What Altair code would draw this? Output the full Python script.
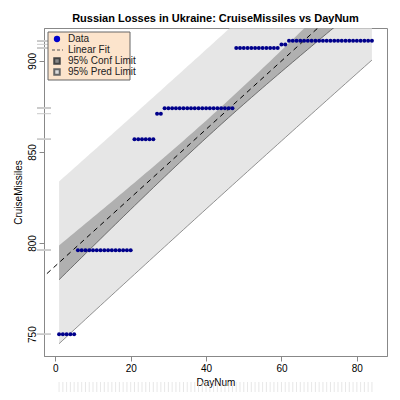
import numpy as np
import pandas as pd
import altair as alt

# CruiseMissiles by day
days = list(range(1, 85))
runs = [(5, 750), (15, 796), (6, 857), (2, 871), (19, 874), (12, 907), (2, 909), (23, 911)]
missiles = [v for n, v in runs for _ in range(n)]
legend_labels = ["Data", "Linear Fit", "95% Conf Limit", "95% Pred Limit"]

df = pd.DataFrame({"DayNum": days, "CruiseMissiles": missiles})

# least squares fit with 95% confidence / prediction limits
x = np.array(days, float)
y = np.array(missiles, float)
n = len(x)
b, a = np.polyfit(x, y, 1)
res = y - (a + b * x)
s = np.sqrt((res ** 2).sum() / (n - 2))
sxx = ((x - x.mean()) ** 2).sum()
t = 1.989
fit = a + b * x
se_c = s * np.sqrt(1 / n + (x - x.mean()) ** 2 / sxx)
se_p = s * np.sqrt(1 + 1 / n + (x - x.mean()) ** 2 / sxx)
band = pd.DataFrame({"DayNum": x, "fit": fit,
                     "clo": fit - t * se_c, "chi": fit + t * se_c,
                     "plo": fit - t * se_p, "phi": fit + t * se_p})
line = pd.DataFrame({"DayNum": [-4.0, 92.0]})
line["fit"] = a + b * line["DayNum"]

xs = alt.Scale(domain=[-3, 88], nice=False, zero=False)
ys = alt.Scale(domain=[738, 918], nice=False, zero=False)
X = alt.X("DayNum:Q", scale=xs, title="DayNum",
          axis=alt.Axis(values=[0, 20, 40, 60, 80], grid=False))
Y = alt.Y("plo:Q", scale=ys, title="CruiseMissiles",
          axis=alt.Axis(values=[750, 800, 850, 900], grid=False, labelAngle=-90))

pred = alt.Chart(band).mark_area(color="#dcdcdc", clip=True,
                                 line={"color": "#777", "strokeWidth": 0.8}).encode(
    x=X, y=Y, y2="phi:Q")
conf = alt.Chart(band).mark_area(color="#999999", clip=True,
                                 line={"color": "#555", "strokeWidth": 0.8}).encode(
    x="DayNum:Q", y="clo:Q", y2="chi:Q")
fitline = alt.Chart(line).mark_line(color="black", strokeDash=[5, 4], strokeWidth=1, clip=True).encode(
    x="DayNum:Q", y="fit:Q")
xrug = alt.Chart(df).mark_tick(color="#dddddd", thickness=1, size=10, orient="vertical").encode(
    x="DayNum:Q", y=alt.value(359))
yrug = alt.Chart(df).mark_tick(color="#cccccc", thickness=1, size=14).encode(
    y="CruiseMissiles:Q", x=alt.value(0))
pts = alt.Chart(df).mark_circle(color="#00008B", size=16, opacity=1).encode(
    x="DayNum:Q", y="CruiseMissiles:Q")

base = alt.Chart(pd.DataFrame({"a": [0]}))
box = base.mark_rect(fill="#fce4cc", stroke="#666").encode(
    x=alt.value(4), x2=alt.value(86), y=alt.value(4), y2=alt.value(52))
texts = [base.mark_text(align="left", baseline="middle", fontSize=10, color="#222",
                        font="Liberation Sans", text=lab).encode(
    x=alt.value(24), y=alt.value(11 + 11 * i)) for i, lab in enumerate(legend_labels)]
lsym_pts = base.mark_circle(color="#0000cc", size=40, opacity=1).encode(x=alt.value(13), y=alt.value(11))
lsym_line = base.mark_rule(color="#555", strokeDash=[3, 2]).encode(
    x=alt.value(8), x2=alt.value(19), y=alt.value(22))
lsym_c = base.mark_square(color="#888", size=30, opacity=1, stroke="#444").encode(
    x=alt.value(13), y=alt.value(33))
lsym_p = base.mark_square(color="#dcdcdc", size=30, opacity=1, stroke="#666").encode(
    x=alt.value(13), y=alt.value(44))

chart = alt.layer(pred, conf, fitline, xrug, yrug, pts, box, *texts,
                  lsym_pts, lsym_line, lsym_c, lsym_p).properties(
    width=384, height=384,
    autosize=alt.AutoSizeParams(type="fit", contains="padding"),
    title=alt.TitleParams("Russian Losses in Ukraine: CruiseMissiles vs DayNum",
                          fontSize=11, fontWeight="bold", font="Liberation Sans")
).configure_axis(labelFont="Liberation Sans", titleFont="Liberation Sans", titleFontWeight="normal",
                 labelFontSize=10, titleFontSize=10, domainColor="#888", tickColor="#888"
).configure_view(stroke="#888")

chart.save("out.html", embed_options={"renderer": "svg", "actions": False})
